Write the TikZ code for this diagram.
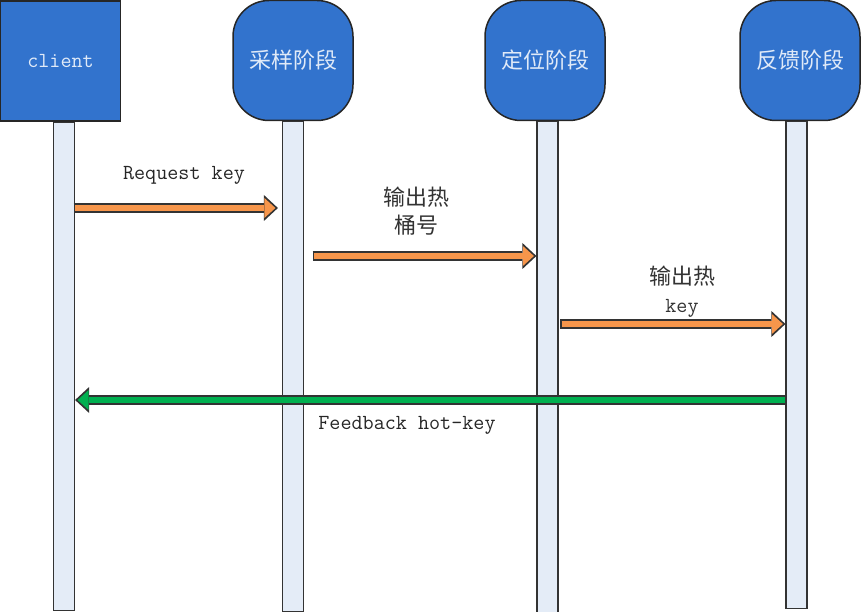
\documentclass[tikz,border=0pt]{standalone}
\usepackage{fontspec}
\newfontfamily\cjk{Noto Sans CJK SC}
\usetikzlibrary{positioning}
\usetikzlibrary{arrows.meta}
\definecolor{boxblue}{RGB}{50,115,205}
\definecolor{lifeblue}{RGB}{228,236,247}
\definecolor{msgorange}{RGB}{247,150,75}
\definecolor{msggreen}{RGB}{0,176,80}
\tikzset{stage/.style={draw=black!85, line width=1.5pt, fill=boxblue,
         text=white!85!boxblue, minimum width=120pt, minimum height=120pt,
         rounded corners=36pt, inner sep=0pt, font=\cjk\fontsize{22pt}{26pt}\selectfont}}
\tikzset{lifeline/.style={draw=black!80, line width=1.2pt, fill=lifeblue,
         minimum width=21pt, minimum height=#1, inner sep=0pt},
         lifeline/.default=490pt}
\tikzset{msg/.style={draw=#1, line width=6.5pt, shorten >=2.5pt,
         -{Triangle[length=11pt,width=20pt,line width=0pt]},
         preaction={draw=black!80, line width=9.5pt, shorten >=0pt, shorten <=-1.5pt,
         -{Triangle[length=14pt,width=26pt,line width=0pt]}}},
         msg/.default=msgorange}
\tikzset{latin/.style={text=black!85, font=\ttfamily\fontsize{21.5pt}{27pt}\selectfont},
         chinese/.style={text=black!80, align=center, font=\cjk\fontsize{22pt}{28pt}\selectfont}}

\begin{document}
\begin{tikzpicture}[x=1pt, y=-1pt]
    \useasboundingbox (0,0) rectangle (862,612);
    % the four stages
    \node[stage, rounded corners=0pt, minimum width=120pt, minimum height=120pt,
          font=\ttfamily\fontsize{21.5pt}{26pt}\selectfont] (client) at (60.5,61) {client};
    \node[stage] (sample) at (293,60.5) {采样阶段};
    \node[stage] (locate) at (545,60.5) {定位阶段};
    \node[stage] (feedback) at (800,60.5) {反馈阶段};

    % lifelines
    \node[lifeline=488pt, below=0pt of client, xshift=3.5pt] (l1) {};
    \node[lifeline, below=0pt of sample] (l2) {};
    \node[lifeline=491pt, below=0pt of locate, xshift=2.5pt] (l3) {};
    \node[lifeline=487pt, below=0pt of feedback, xshift=-3.5pt] (l4) {};

    % messages
    \draw[msg] (l1.east |- 0,208) -- ([xshift=-4pt]l2.west |- 0,208);
    \draw[msg] ([xshift=10pt]l2.east |- 0,256) -- (l3.west |- 0,256);
    \draw[msg] ([xshift=3pt]l3.east |- 0,324) -- (l4.west |- 0,324);
    \draw[msg=msggreen] (l4.west |- 0,400) -- (l1.east |- 0,400);

    \node[latin] (req) at (184,175) {Request key};
    \node[chinese] (bucket) at (416,211) {输出热\\桶号};
    \node[chinese] (hotkey) at (682,292) {输出热\\{\ttfamily\fontsize{21.5pt}{28pt}\selectfont key}};
    \node[latin] (fb) at (407,425) {Feedback hot-key};
\end{tikzpicture}
\end{document}
